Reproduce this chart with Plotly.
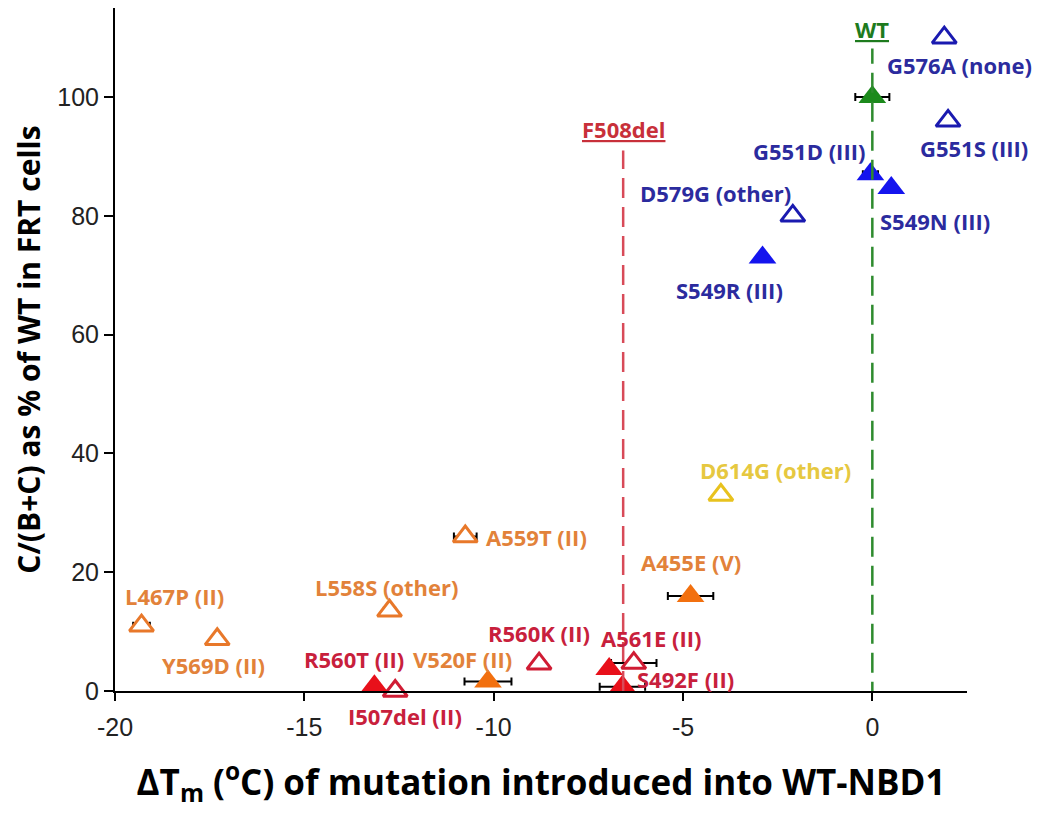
import plotly.graph_objects as go

# mutations
labels = ["WT", "G576A (none)", "G551S (III)", "G551D (III)", "S549N (III)",
          "D579G (other)", "S549R (III)", "D614G (other)", "A455E (V)",
          "A559T (II)", "L558S (other)", "L467P (II)", "Y569D (II)",
          "R560T (II)", "V520F (II)", "I507del (II)", "R560K (II)",
          "A561E (II)", "S492F (II)", ""]
dTm = [0.0, 1.9, 2.0, -0.05, 0.5, -2.1, -2.9, -4.0, -4.8, -10.75, -12.75,
       -19.3, -17.3, -13.15, -10.15, -12.6, -8.8, -6.3, -6.6, -6.95]
dTm_err = [0.45, 0.1, 0.05, 0.2, 0.1, 0.1, 0.1, 0.03, 0.6, 0.3, 0.15,
           0.22, 0.05, 0.1, 0.62, 0.05, 0.05, 0.6, 0.6, 0.1]
pct_wt = [100, 110, 96, 87, 84.7, 80, 73, 33, 16, 26, 13.5,
          11, 8.7, 0.8, 1.6, 0, 4.6, 4.7, 0.7, 3.7]
group = ["wt", "blue", "blue", "blue", "blue", "blue", "blue", "yellow",
         "orange", "orange", "orange", "orange", "orange", "red", "orange",
         "red", "red", "red", "red", "red"]
filled = [True, False, False, True, True, False, True, False, True, False,
          False, False, False, True, True, False, False, False, True, True]

F508DEL_TM = -6.58
x_ticks = [-20, -15, -10, -5, 0]
y_ticks = [0, 20, 40, 60, 80, 100]

marker_col = {"wt": "#1c8a1c", "blue": "#1414ee", "yellow": "#e8c21e",
              "orange": "#f2700f", "red": "#e8101a"}
open_col = {"blue": "#1a1ab0", "yellow": "#e8c21e", "orange": "#e8782a",
            "red": "#d01c34"}
text_col = {"wt": "#1e7b1e", "blue": "#2b2b9e", "yellow": "#e6c840",
            "orange": "#e2823a", "red": "#c8203c"}

# label offsets in pixels (right, down) from the marker
offsets = {"G576A (none)": (15, 27), "G551S (III)": (26, 27),
           "G551D (III)": (-61, -23), "S549N (III)": (44, 33),
           "D579G (other)": (-77, -23), "S549R (III)": (-33, 33),
           "D614G (other)": (55, -25), "A455E (V)": (0, -34),
           "A559T (II)": (71, 0), "L558S (other)": (-3, -24),
           "L467P (II)": (33, -30), "Y569D (II)": (-4, 26),
           "R560T (II)": (-20, -27), "V520F (II)": (-25, -23),
           "I507del (II)": (10, 25), "R560K (II)": (0, -31),
           "A561E (II)": (17, -25), "S492F (II)": (63, -8)}

fig = go.Figure()

# reference lines for WT and F508del
fig.add_shape(type="line", x0=0, x1=0, y0=-1.8, y1=108.2,
              line=dict(color="#2e8b2e", width=2.5, dash="20px,9px"))
fig.add_shape(type="line", x0=F508DEL_TM, x1=F508DEL_TM, y0=0, y1=91,
              line=dict(color="#d84a58", width=2.5, dash="20px,9px"))

for g in ["wt", "blue", "yellow", "orange", "red"]:
    for f in [False, True]:
        idx = [i for i in range(len(labels)) if group[i] == g and filled[i] == f]
        if not idx:
            continue
        if f:
            mk = dict(symbol="triangle-up", size=24, color=marker_col[g],
                      line=dict(width=0))
        else:
            mk = dict(symbol="triangle-up", size=21, color="white",
                      line=dict(width=3, color=open_col[g]))
        fig.add_trace(go.Scatter(
            x=[dTm[i] for i in idx], y=[pct_wt[i] for i in idx],
            mode="markers", marker=mk, cliponaxis=False,
            error_x=dict(type="data", array=[dTm_err[i] for i in idx],
                         color="black", thickness=2, width=4),
            showlegend=False))

for i, name in enumerate(labels):
    if name in offsets:
        dx, dy = offsets[name]
        fig.add_annotation(x=dTm[i], y=pct_wt[i], text="<b>" + name + "</b>",
                           showarrow=False, xshift=dx, yshift=-dy,
                           font=dict(family="Open Sans", size=22,
                                     color=text_col[group[i]]))

fig.add_annotation(x=0, y=111.5, text="<b><u>WT</u></b>", showarrow=False,
                   font=dict(family="Open Sans", size=22, color="#1e7b1e"))
fig.add_annotation(x=F508DEL_TM, y=94.7, text="<b><u>F508del</u></b>",
                   showarrow=False,
                   font=dict(family="Open Sans", size=22, color="#c8303a"))

fig.update_xaxes(range=[-20, 2.5], tickvals=x_ticks,
                 ticktext=[str(v) for v in x_ticks], ticks="outside",
                 ticklen=8, tickwidth=2, tickcolor="black", showline=True,
                 linecolor="black", linewidth=2, showgrid=False, zeroline=False,
                 ticklabelstandoff=5,
                 tickfont=dict(family="Liberation Sans", size=25, color="#222"),
                 title=dict(text="<b>ΔT<sub>m</sub> (<sup>o</sup>C) of mutation introduced into WT-NBD1</b>",
                            font=dict(family="Open Sans", size=35, color="black"),
                            standoff=30))
fig.update_yaxes(range=[0, 115], tickvals=y_ticks, ticks="outside",
                 ticklen=9, tickwidth=2, tickcolor="black", showline=True,
                 linecolor="black", linewidth=2, showgrid=False, zeroline=False,
                 tickfont=dict(family="Liberation Sans", size=25, color="#222"),
                 title=dict(text="<b>C/(B+C) as % of WT in FRT cells</b>",
                            font=dict(family="Open Sans", size=30, color="black"),
                            standoff=20))

fig.update_layout(width=1050, height=814, plot_bgcolor="white",
                  paper_bgcolor="white",
                  margin=dict(l=107, r=91, t=0, b=131))

fig.write_html("out.html")
